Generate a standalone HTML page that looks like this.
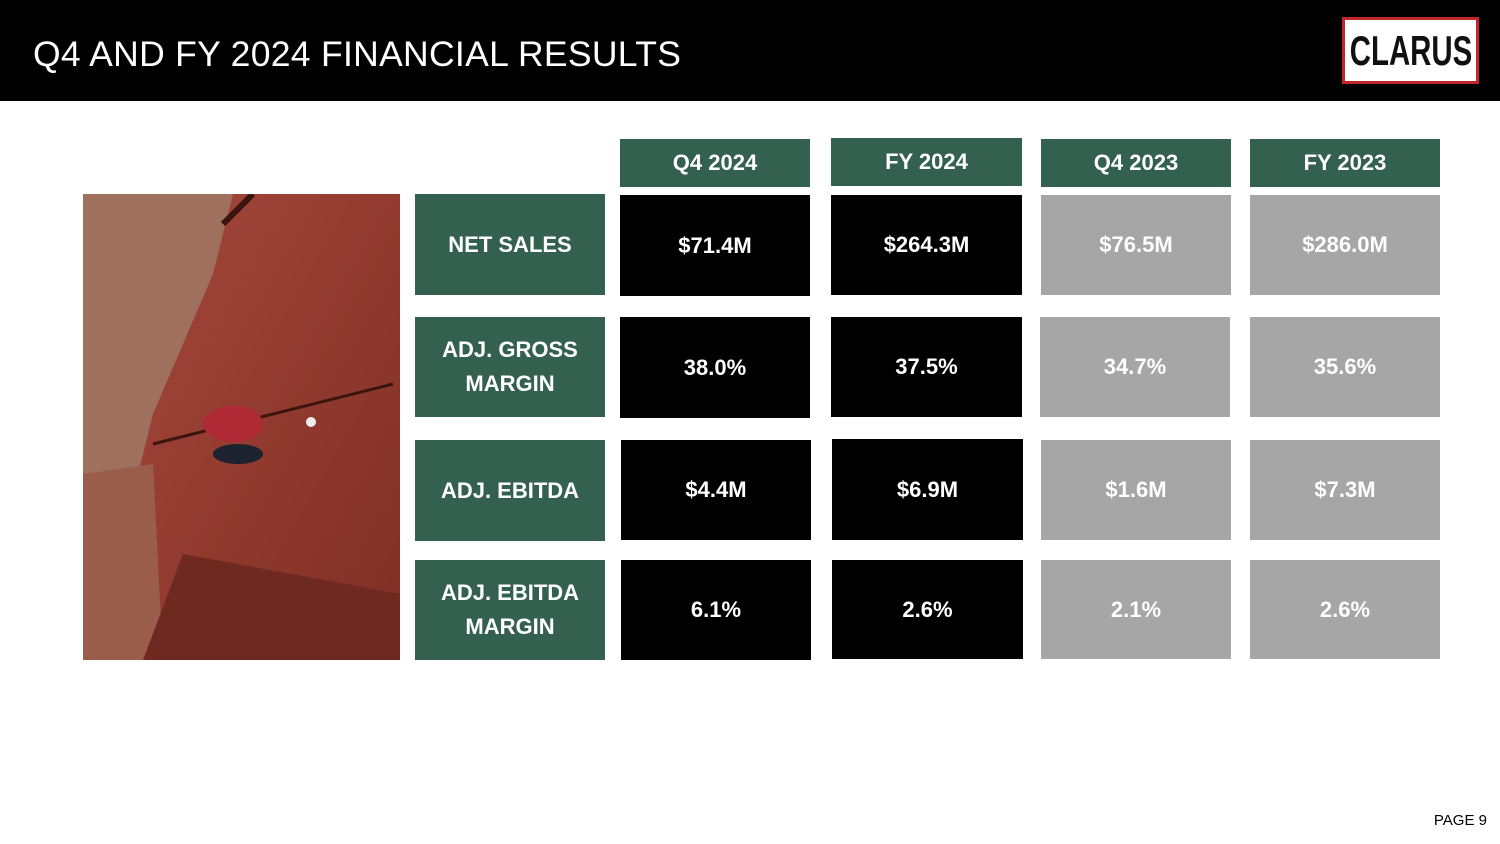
<!DOCTYPE html>
<html><head><style>
body{margin:0;width:1500px;height:844px;background:#fff;position:relative;overflow:hidden;font-family:"Liberation Sans",sans-serif}
.hdr{position:absolute;left:0;top:0;width:1500px;height:101px;background:#000}
.title{position:absolute;left:33px;top:34px;color:#fff;font-size:35.5px;letter-spacing:0.3px}
.logo{position:absolute;left:1342px;top:17px;width:131px;height:61px;background:#fff;border:3px solid #c0262c;overflow:hidden}
.logo span{position:absolute;left:50%;top:0;transform:translateX(-50%) scaleX(0.7);font:bold 42px/61px "Liberation Sans",sans-serif;color:#111;white-space:nowrap}
.b{position:absolute;display:flex;align-items:center;justify-content:center;text-align:center;color:#fff;font-weight:bold;font-size:22px;line-height:34px}
.g{background:#33604f}.k{background:#000}.s{background:#a6a6a6}
.page{position:absolute;right:13px;top:812px;font-size:15px;color:#000}
</style></head><body>
<div class="hdr"></div>
<div class="title">Q4 AND FY 2024 FINANCIAL RESULTS</div>
<div class="logo"><span>CLARUS</span></div>

<svg style="position:absolute;left:83px;top:194px" width="317" height="466" viewBox="0 0 317 466">
<defs><linearGradient id="r" x1="0" y1="0" x2="1" y2="1"><stop offset="0" stop-color="#a5473a"/><stop offset="1" stop-color="#7e2e24"/></linearGradient></defs>
<rect width="317" height="466" fill="#8c4a3e"/>
<rect width="150" height="300" fill="#a0705f"/>
<polygon points="150,0 317,0 317,466 60,466 50,300 70,220 130,80" fill="url(#r)"/>
<polygon points="0,280 70,270 80,466 0,466" fill="#9a5d4c"/>
<polygon points="60,466 100,360 317,400 317,466" fill="#6e2920"/>
<path d="M70,250 L310,190" stroke="#3a1510" stroke-width="3"/>
<path d="M140,30 L170,0" stroke="#3a1510" stroke-width="6"/>
<ellipse cx="150" cy="230" rx="30" ry="18" fill="#b02a35"/>
<ellipse cx="155" cy="260" rx="25" ry="10" fill="#1d2230"/>
<circle cx="228" cy="228" r="5" fill="#eee"/>
</svg>

<div class="b g" style="left:620px;top:139px;width:190px;height:48px">Q4 2024</div>
<div class="b g" style="left:831px;top:138px;width:191px;height:48px">FY 2024</div>
<div class="b g" style="left:1041px;top:139px;width:190px;height:48px">Q4 2023</div>
<div class="b g" style="left:1250px;top:139px;width:190px;height:48px">FY 2023</div>

<div class="b g" style="left:415px;top:194px;width:190px;height:101px">NET SALES</div>
<div class="b k" style="left:620px;top:195px;width:190px;height:101px">$71.4M</div>
<div class="b k" style="left:831px;top:195px;width:191px;height:100px">$264.3M</div>
<div class="b s" style="left:1041px;top:195px;width:190px;height:100px">$76.5M</div>
<div class="b s" style="left:1250px;top:195px;width:190px;height:100px">$286.0M</div>

<div class="b g" style="left:415px;top:317px;width:190px;height:100px">ADJ. GROSS<br>MARGIN</div>
<div class="b k" style="left:620px;top:317px;width:190px;height:101px">38.0%</div>
<div class="b k" style="left:831px;top:317px;width:191px;height:100px">37.5%</div>
<div class="b s" style="left:1040px;top:317px;width:190px;height:100px">34.7%</div>
<div class="b s" style="left:1250px;top:317px;width:190px;height:100px">35.6%</div>

<div class="b g" style="left:415px;top:440px;width:190px;height:101px">ADJ. EBITDA</div>
<div class="b k" style="left:621px;top:440px;width:190px;height:100px">$4.4M</div>
<div class="b k" style="left:832px;top:439px;width:191px;height:101px">$6.9M</div>
<div class="b s" style="left:1041px;top:440px;width:190px;height:100px">$1.6M</div>
<div class="b s" style="left:1250px;top:440px;width:190px;height:100px">$7.3M</div>

<div class="b g" style="left:415px;top:560px;width:190px;height:100px">ADJ. EBITDA<br>MARGIN</div>
<div class="b k" style="left:621px;top:560px;width:190px;height:100px">6.1%</div>
<div class="b k" style="left:832px;top:560px;width:191px;height:99px">2.6%</div>
<div class="b s" style="left:1041px;top:560px;width:190px;height:99px">2.1%</div>
<div class="b s" style="left:1250px;top:560px;width:190px;height:99px">2.6%</div>

<div class="page">PAGE 9</div>
</body></html>
